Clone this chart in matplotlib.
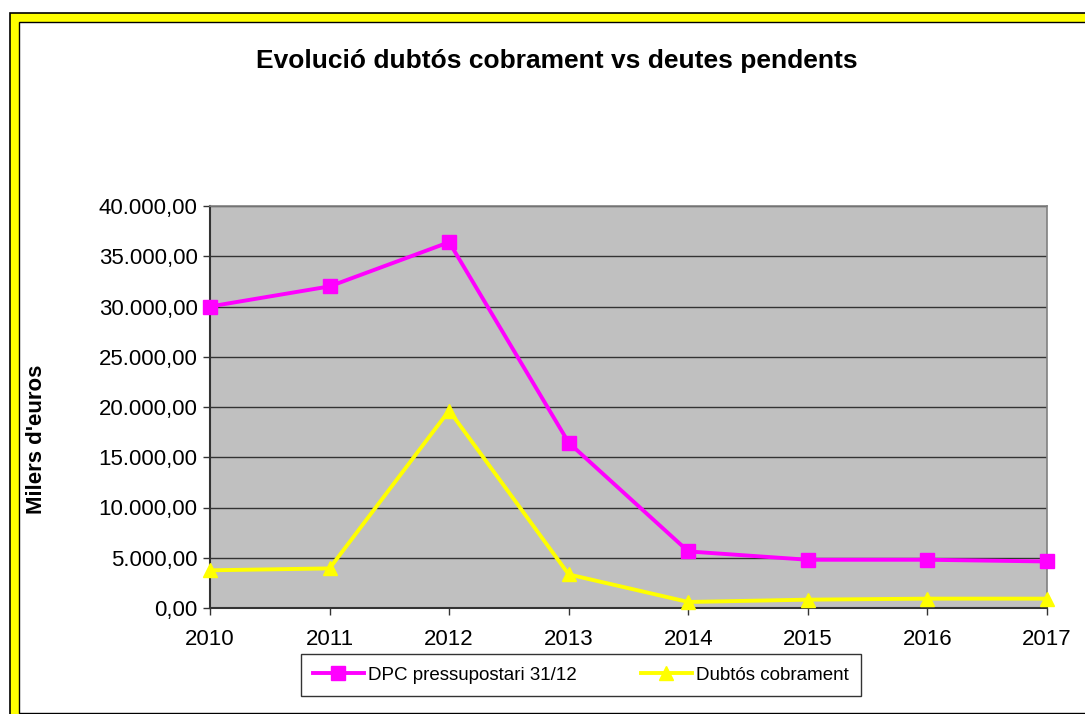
import matplotlib
matplotlib.use("Agg")
import matplotlib.pyplot as plt
from matplotlib.patches import Rectangle
from matplotlib.ticker import FuncFormatter

plt.rcParams['font.family'] = ['Liberation Sans', 'DejaVu Sans']

# Data (milers d'euros)
years = ["2010", "2011", "2012", "2013", "2014", "2015", "2016", "2017"]
dpc_pressupostari = [30000, 32000, 36400, 16450, 5630, 4800, 4800, 4630]
dubtos_cobrament = [3750, 3940, 19650, 3340, 600, 830, 930, 930]

W, H = 1085, 714
fig = plt.figure(figsize=(W / 100, H / 100), dpi=100)


def px_rect(x0, y0, x1, y1):
    # pixel box (top-left origin) -> figure fraction rect
    return (x0 / W, 1 - y1 / H, (x1 - x0) / W, (y1 - y0) / H)


# yellow chart frame (cropped on right / bottom)
fx, fy, fw, fh = px_rect(10, 12.5, 1110, 740)
fig.patches.append(Rectangle((fx, fy), fw, fh, transform=fig.transFigure,
                             facecolor="#FFFF00", edgecolor="black", lw=1.2, zorder=-10))
ix, iy, iw, ih = px_rect(19, 22, 1100, 712.5)
fig.patches.append(Rectangle((ix, iy), iw, ih, transform=fig.transFigure,
                             facecolor="white", edgecolor="black", lw=1.0, zorder=-9))

ax = fig.add_axes(px_rect(210, 206, 1047, 608))
ax.set_facecolor("#C0C0C0")

x = list(range(len(years)))
ax.plot(x, dpc_pressupostari, color="#FF00FF", lw=2.8, marker="s", markersize=10.5,
        label="DPC pressupostari 31/12", clip_on=False, zorder=3)
ax.plot(x, dubtos_cobrament, color="#FFFF00", lw=2.8, marker="^", markersize=10.5,
        label="Dubtós cobrament", clip_on=False, zorder=3)

ax.set_xlim(0, 7)
ax.set_ylim(0, 40000)
ax.set_xticks(x)
ax.set_xticklabels(years)
ax.set_yticks(range(0, 40001, 5000))
ax.yaxis.set_major_formatter(FuncFormatter(
    lambda v, p: "{:,.2f}".format(v).replace(",", "X").replace(".", ",").replace("X", ".")))
ax.grid(axis="y", color="#333333", lw=1.0)
ax.set_axisbelow(True)
ax.tick_params(axis="both", direction="out", length=5, width=1, colors="#333333",
               labelcolor="black", labelsize=16)
ax.tick_params(axis="x", pad=10)
ax.tick_params(axis="y", pad=4)
for s in ["top", "right"]:
    ax.spines[s].set_color("#808080")
    ax.spines[s].set_linewidth(1.2)
for s in ["left", "bottom"]:
    ax.spines[s].set_color("#333333")
    ax.spines[s].set_linewidth(1.5)

fig.text(557 / W, 1 - 61 / H, "Evolució dubtós cobrament vs deutes pendents",
         ha="center", va="center", fontsize=19, fontweight="bold")
fig.text(37 / W, 1 - 439 / H, "Milers d'euros", rotation=90, ha="center", va="center",
         fontsize=16, fontweight="bold")

leg = fig.legend(loc="center", bbox_to_anchor=(581 / W, 1 - 675 / H), ncol=2,
                 frameon=True, fancybox=False, edgecolor="black", fontsize=13.5,
                 handlelength=2.7, handletextpad=0.25, columnspacing=3.4, borderpad=0.65)
leg.get_frame().set_linewidth(1.0)

fig.savefig("out.png", dpi=100)
